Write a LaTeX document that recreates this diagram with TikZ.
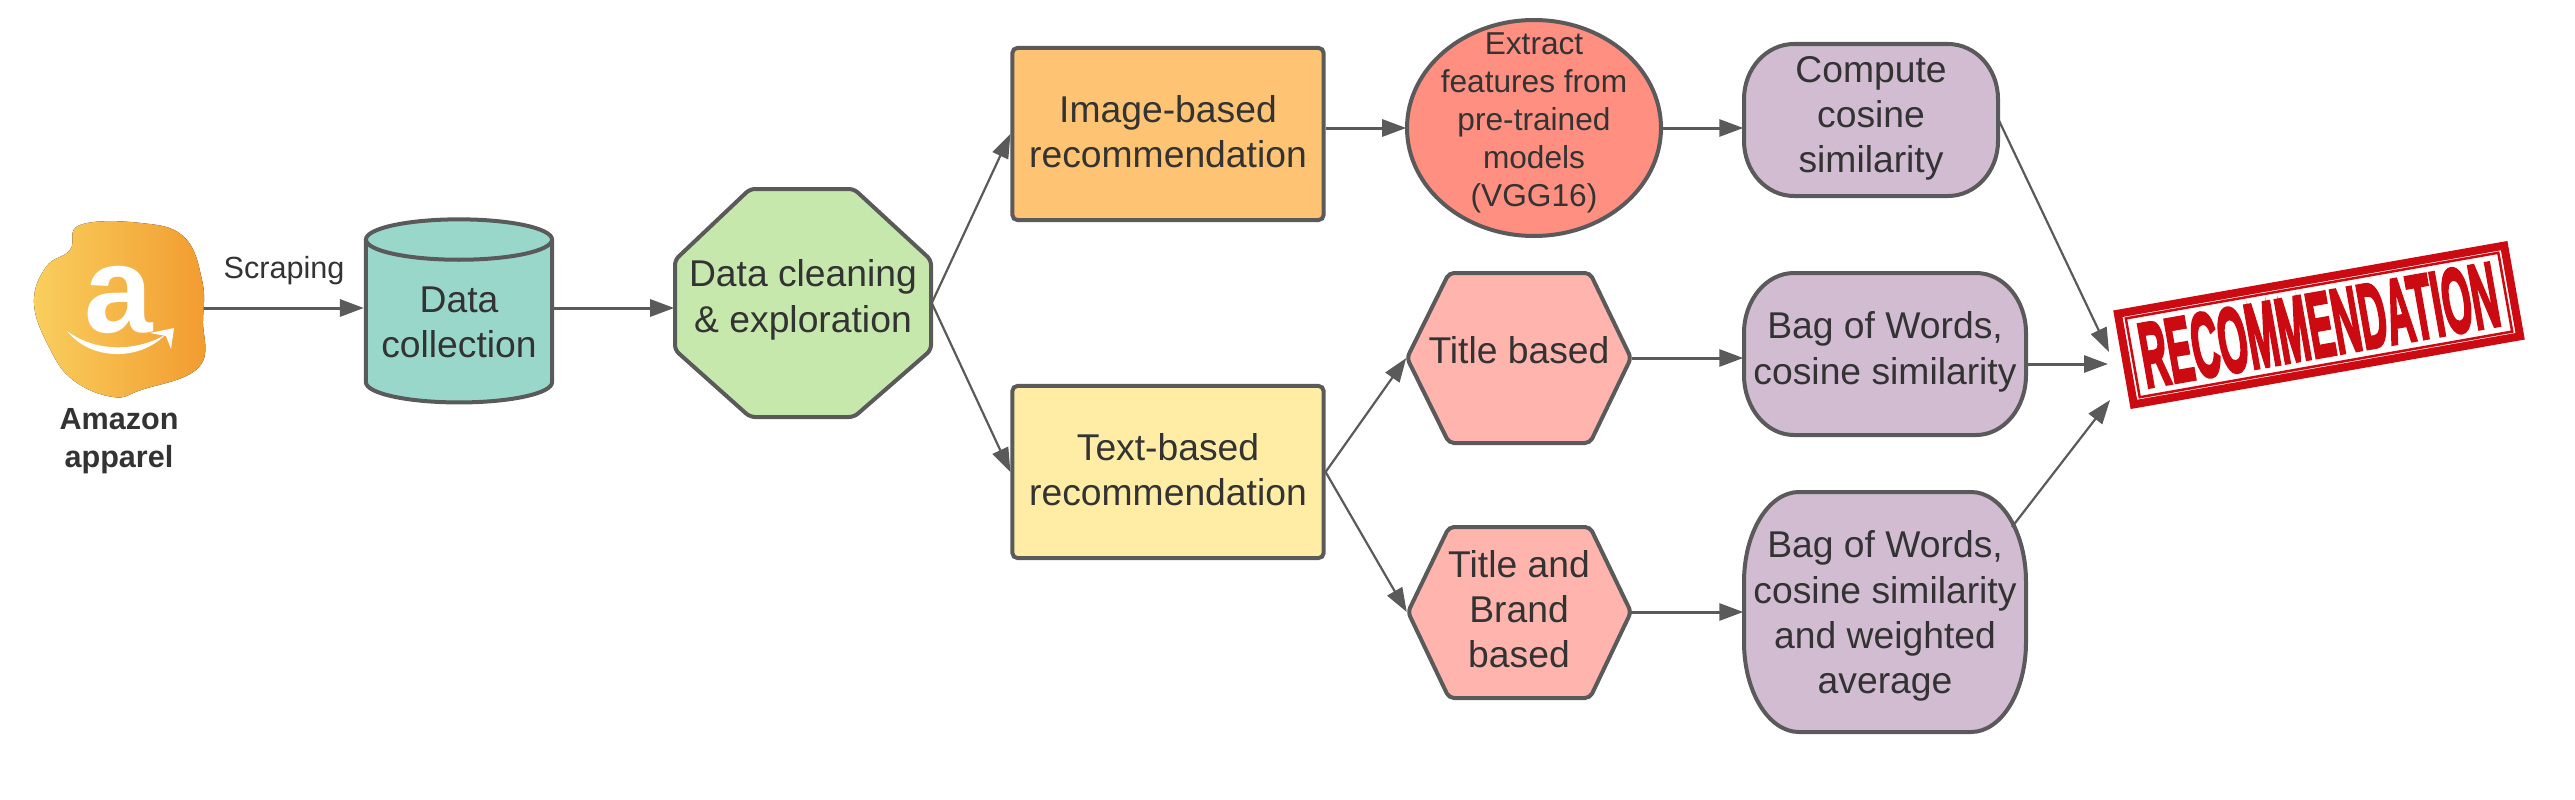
\documentclass[tikz,border=0pt]{standalone}
\usepackage{fontspec}
\setmainfont{Liberation Sans}
\newfontfamily\stampfont[BoldFeatures={FakeBold=4}]{Liberation Sans}
\usetikzlibrary{arrows.meta,shapes}

\definecolor{linegray}{HTML}{5A5A5A}
\definecolor{textgray}{HTML}{333333}
\definecolor{tealfill}{HTML}{9AD7CB}
\definecolor{greenfill}{HTML}{C7E8AC}
\definecolor{orangefill}{HTML}{FFC374}
\definecolor{yellowfill}{HTML}{FFEDA6}
\definecolor{redfill}{HTML}{FF8F80}
\definecolor{pinkfill}{HTML}{FFB5AD}
\definecolor{purplefill}{HTML}{D1BCD2}
\definecolor{stampred}{HTML}{CC0A12}
\definecolor{logolight}{HTML}{F9CF5E}
\definecolor{logomid}{HTML}{F8A92A}
\definecolor{logodark}{HTML}{F29A2E}

\tikzset{
  outline/.style={draw=linegray,line width=0.04cm},
  boxtext/.style={text=textgray,align=center,inner sep=0pt,font=\fontsize{10.6}{12.8}\selectfont},
  flow/.style={->,draw=linegray,line width=0.03cm},
  slant/.style={->,draw=linegray,line width=0.022cm},
  recbox/.style={rectangle,outline,rounded corners=0.05cm,boxtext,minimum width=3.11cm,minimum height=1.72cm},
}

% name, x, y, half width, half height, corner rx, corner ry, node options, text
\newcommand{\softbox}[9]{
  \draw[outline,fill=purplefill] ({#2-#4},{#3-#5+#7})
    arc[start angle=180,end angle=270,x radius=#6,y radius=#7] -- ({#2+#4-#6},{#3-#5})
    arc[start angle=270,end angle=360,x radius=#6,y radius=#7] -- ({#2+#4},{#3+#5-#7})
    arc[start angle=0,end angle=90,x radius=#6,y radius=#7] -- ({#2-#4+#6},{#3+#5})
    arc[start angle=90,end angle=180,x radius=#6,y radius=#7] -- cycle;
  \node (#1) at (#2,#3) [boxtext,minimum width={2*#4*0.01cm},minimum height={2*#5*0.01cm},#8] {#9};
}

\begin{document}
\begin{tikzpicture}[x=0.01cm,y=-0.01cm,>={Triangle[length=0.24cm,width=0.17cm]}]
  \useasboundingbox (0,0) rectangle (2575,800);

  % logo
  \fill[left color=logolight,middle color=logomid,right color=logodark] plot[smooth cycle,tension=0.7] coordinates {(80,225) (141,223) (184,237) (202,280) (203,320) (199,367) (141,390) (113,397) (73,380) (49,347) (34,303) (46,267) (70,250)};
  \node (logo) at (119,308) [minimum width=1.69cm,minimum height=1.74cm,inner sep=0pt,text=white,font=\bfseries\fontsize{35}{35}\selectfont] {\raisebox{0.17cm}{a}};
  \fill[white] (67,331) .. controls (95,352) and (135,352) .. (165,335) .. controls (138,362) and (90,360) .. (67,331);
  \fill[white] (150,333) -- (174,328) -- (171,349) -- (166,336) -- cycle;
  \node (amazon) at (119,441) [boxtext,font=\bfseries\fontsize{8.7}{11}\selectfont] {Amazon\\apparel};

  % collection and cleaning
  \node (collect) at (459,322) [cylinder,shape border rotate=90,shape aspect=0.26,outline,fill=tealfill,boxtext,minimum width=1.86cm,minimum height=1.83cm] {Data\\collection};
  \draw[outline,fill=greenfill,rounded corners=0.05cm] (750,189) -- (854,189) -- (931,260) -- (931,350) -- (854,417) -- (750,417) -- (675,350) -- (675,260) -- cycle;
  \node (clean) at (803,303) [boxtext,minimum width=2.56cm,minimum height=2.28cm,text depth=0.14cm] {Data cleaning\\\& exploration};

  % two branches
  \node (imagerec) at (1168,134) [recbox,fill=orangefill,text depth=0.06cm] {Image-based\\recommendation};
  \node (textrec) at (1168,472) [recbox,fill=yellowfill,text depth=0.06cm] {Text-based\\recommendation};
  \draw[outline,fill=redfill] (1534,128) ellipse [x radius=127,y radius=108];
  \node (extract) at (1534,128) [boxtext,minimum width=2.54cm,minimum height=2.17cm,font=\fontsize{9}{10.8}\selectfont,text depth=0.17cm] {Extract\\features from\\pre-trained\\models\\(VGG16)};

  \draw[outline,fill=pinkfill,rounded corners=0.05cm] (1449,273) -- (1590,273) -- (1631,358) -- (1590,443) -- (1449,443) -- (1407,358) -- cycle;
  \node (titlehex) at (1519,358) [boxtext,minimum width=2.24cm,minimum height=1.70cm,text depth=0.16cm] {Title based};
  \draw[outline,fill=pinkfill,rounded corners=0.05cm] (1449,527) -- (1590,527) -- (1631,612) -- (1590,698) -- (1449,698) -- (1408,612) -- cycle;
  \node (brandhex) at (1519,612) [boxtext,minimum width=2.23cm,minimum height=1.71cm,text depth=0.06cm] {Title and\\Brand\\based};

  \softbox{cosine}{1871}{120}{127}{76}{50}{55}{text depth=0.12cm}{Compute\\cosine\\similarity}
  \softbox{bagtitle}{1885}{354}{141}{81}{50}{60}{text depth=0.12cm}{Bag of Words,\\cosine similarity}
  \softbox{bagbrand}{1885}{612}{141}{120}{55}{90}{text depth=-0.02cm}{Bag of Words,\\cosine similarity\\and weighted\\average}

  % stamp
  \node (stamp) at (2319,325) [rectangle,rotate=10,draw=stampred,line width=0.08cm,minimum width=3.92cm,minimum height=0.92cm] {};
  \node (stamptext) at (2319,325) [rectangle,rotate=10,draw=stampred,line width=0.025cm,minimum width=3.78cm,minimum height=0.80cm,inner sep=0pt,text=stampred] {\resizebox{3.62cm}{0.64cm}{\stampfont\bfseries RECOMMENDATION}};

  \coordinate (tiptop) at (2109,352);
  \coordinate (tipmid) at (2108,364);
  \coordinate (tiplow) at (2110,400);
  \coordinate (bagout) at (2012,527);

  % connectors
  \draw[flow] (logo.east) -- (collect.west |- logo.east) node[midway,above=0.22cm,boxtext,font=\fontsize{8.7}{10.7}\selectfont] (scrape) {Scraping};
  \draw[flow] (collect.east |- logo.east) -- (clean.west |- logo.east);
  \draw[slant] (clean.east) -- (imagerec.west);
  \draw[slant] (clean.east) -- (textrec.west);
  \draw[flow] (imagerec.east |- extract.west) -- (extract.west);
  \draw[flow] (extract.east) -- (cosine.west |- extract.east);
  \draw[slant] (textrec.east) -- (titlehex.west);
  \draw[slant] (textrec.east) -- (brandhex.west);
  \draw[flow] (titlehex.east) -- (bagtitle.west |- titlehex.east);
  \draw[flow] (brandhex.east) -- (bagbrand.west);
  \draw[slant] (cosine.east) -- (tiptop);
  \draw[flow] (bagtitle.east |- tipmid) -- (tipmid);
  \draw[slant] (bagout) -- (tiplow);
\end{tikzpicture}
\end{document}
